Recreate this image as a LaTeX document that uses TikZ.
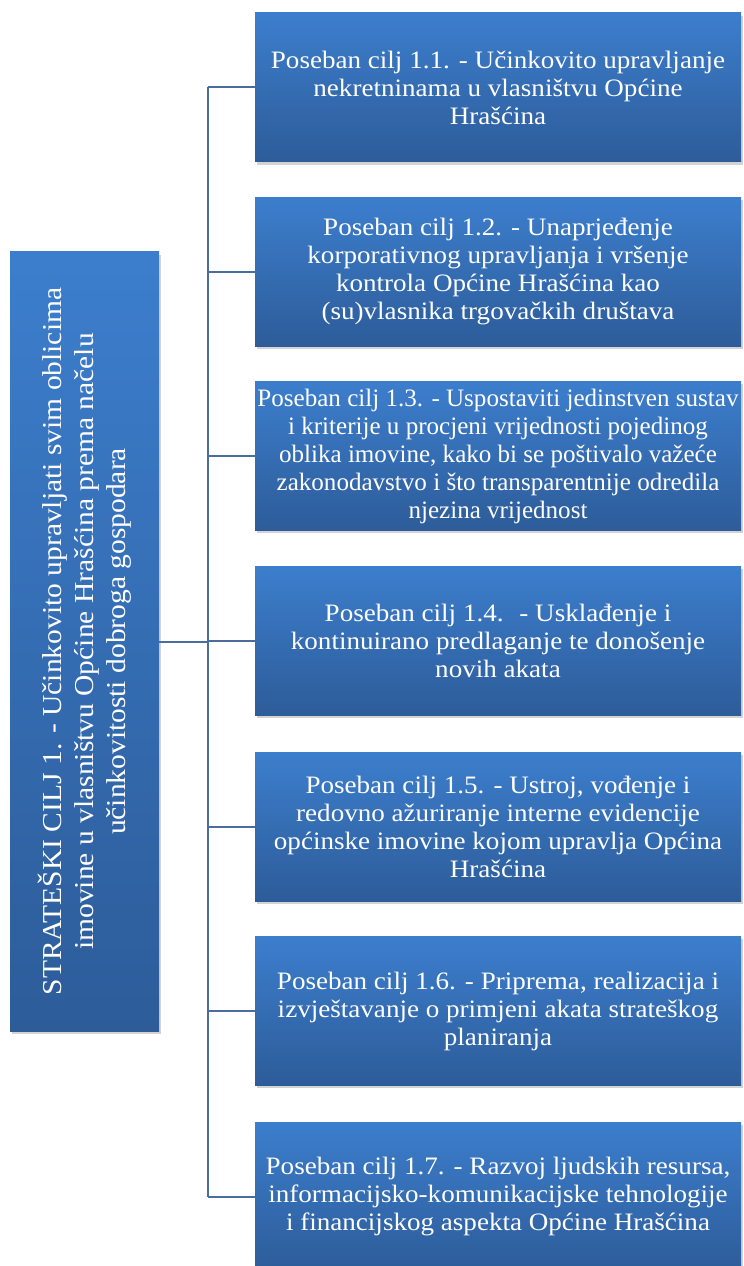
\documentclass[tikz,border=0pt]{standalone}
\usepackage{fontspec}
\setmainfont{Liberation Serif}[FakeStretch=1.08]
\newfontfamily\plainserif{Liberation Serif}
\usetikzlibrary{shadows}
\definecolor{topblue}{RGB}{60,126,205}
\definecolor{botblue}{RGB}{45,92,153}
\definecolor{linkcol}{RGB}{74,108,158}
\tikzset{
  x=0.75pt, y=-0.75pt,
  goalbox/.style={draw=none, top color=topblue, bottom color=botblue,
    minimum width=364.5pt, minimum height=111.75pt, inner sep=0pt,
    text=white, align=center, font=\fontsize{18.8}{21}\selectfont,
    drop shadow={opacity=0.35, shadow xshift=1.5pt, shadow yshift=-2pt}},
  mainbox/.style={draw=none, top color=topblue, bottom color=botblue,
    minimum width=111.75pt, minimum height=584.25pt, inner sep=0pt,
    drop shadow={opacity=0.35, shadow xshift=1.5pt, shadow yshift=-2pt}},
  maintext/.style={rotate=90, text=white, align=center, inner sep=0pt,
    font=\fontsize{20.5}{24}\selectfont},
  link/.style={draw=linkcol, line width=1.5pt}
}
\begin{document}
\begin{tikzpicture}
\useasboundingbox (0,0) rectangle (743,1266);
\clip (0,0) rectangle (743,1266);
\node[mainbox] (L) at (84.5,641.5) {};
\node[maintext] (Lt) at (L.center) {STRATEŠKI CILJ 1. - Učinkovito upravljati svim oblicima\\imovine u vlasništvu Općine Hrašćina prema načelu\\učinkovitosti dobroga gospodara};
\node[goalbox] (b1) at (498,87.5) {Poseban cilj 1.1. - Učinkovito upravljanje\\nekretninama u vlasništvu Općine\\Hrašćina};
\node[goalbox] (b2) at (498,272) {Poseban cilj 1.2. - Unaprjeđenje\\korporativnog upravljanja i vršenje\\kontrola Općine Hrašćina kao\\(su)vlasnika trgovačkih društava};
\node[goalbox, font=\plainserif\fontsize{18.8}{21}\selectfont] (b3) at (498,456) {Poseban cilj 1.3. - Uspostaviti jedinstven sustav\\i kriterije u procjeni vrijednosti pojedinog\\oblika imovine, kako bi se poštivalo važeće\\zakonodavstvo i što transparentnije odredila\\njezina vrijednost};
\node[goalbox] (b4) at (498,640.5) {Poseban cilj 1.4.~ - Usklađenje i\\kontinuirano predlaganje te donošenje\\novih akata};
\node[goalbox] (b5) at (498,826.5) {Poseban cilj 1.5. - Ustroj, vođenje i\\redovno ažuriranje interne evidencije\\općinske imovine kojom upravlja Općina\\Hrašćina};
\node[goalbox] (b6) at (498,1011) {Poseban cilj 1.6. - Priprema, realizacija i\\izvještavanje o primjeni akata strateškog\\planiranja};
\node[goalbox] (b7) at (498,1196.5) {Poseban cilj 1.7. - Razvoj ljudskih resursa,\\informacijsko-komunikacijske tehnologije\\i financijskog aspekta Općine Hrašćina};
\foreach \i/\yy in {1/87.5,2/272,3/456,4/640.5,5/826.5,6/1011,7/1196.5}{
  \coordinate (t\i) at (207.5,\yy);
}
\draw[link] (t1) -- (t7);
\foreach \i in {1,...,7}{ \draw[link] (t\i) -- (b\i.west); }
\draw[link] (L.east) -- (L.east -| t4);
\end{tikzpicture}
\end{document}
